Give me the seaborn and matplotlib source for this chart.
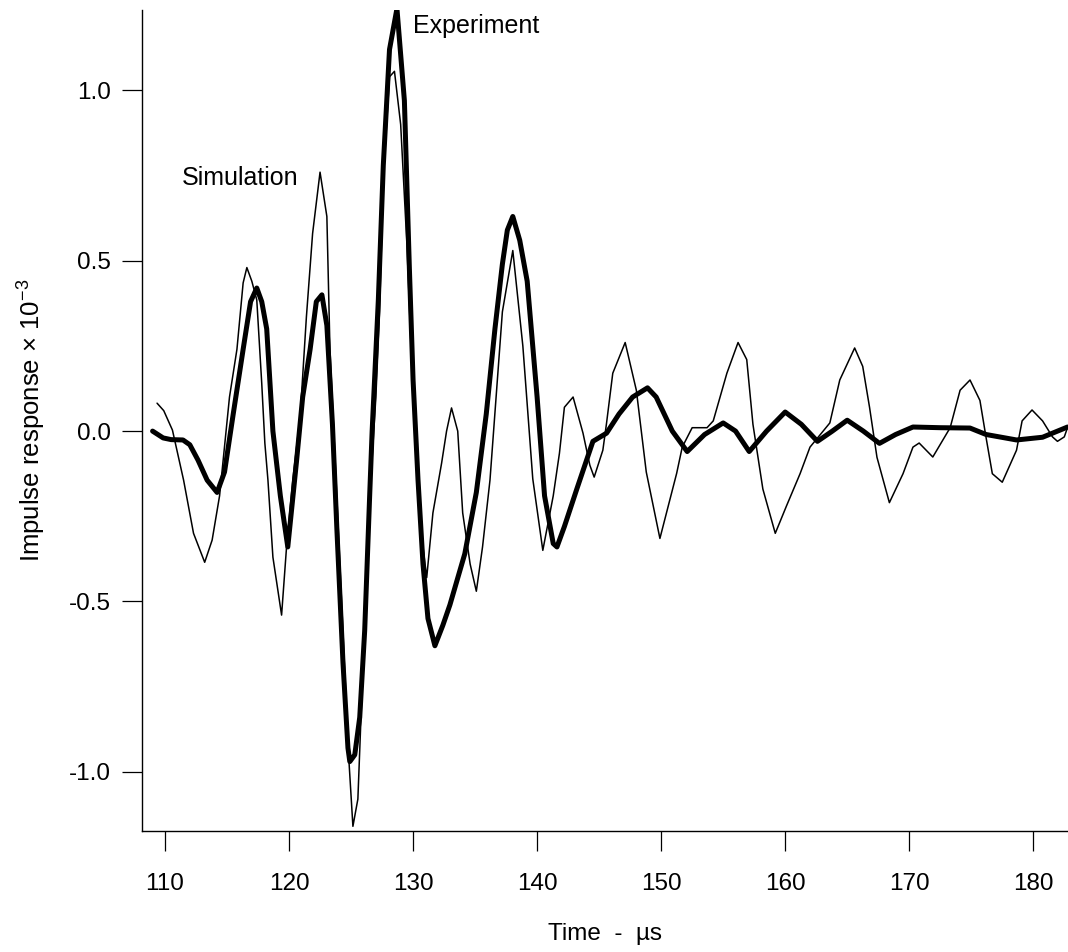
import matplotlib
matplotlib.use("Agg")
import matplotlib.pyplot as plt
import seaborn as sns

# Simulation trace (thin line), time in microseconds, response x 1e-3
sim_time = [109.36, 109.9, 110.6, 111.5, 112.3, 113.2, 113.8, 114.4, 115.2, 115.8,
            116.3, 116.6, 117.0, 117.4, 117.8, 118.05, 118.3, 118.7, 119.4, 119.8,
            120.3, 120.9, 121.4, 121.9, 122.5, 123.05, 123.3, 123.8, 124.3, 124.8,
            125.15, 125.55, 126.0, 126.5, 127.0, 127.3, 127.6, 128.1, 128.5, 129.0,
            129.5, 130.0, 130.5, 131.1, 131.6, 132.3, 132.7, 133.1, 133.6, 134.0,
            134.6, 135.1, 135.6, 136.2, 137.2, 138.04, 138.85, 139.65, 140.46, 141.3,
            141.8, 142.2, 142.9, 143.7, 144.25, 144.6, 145.3, 145.6, 146.1, 147.1,
            148.0, 148.8, 149.9, 151.25, 151.7, 152.5, 153.7, 154.2, 155.3, 156.2,
            156.9, 157.4, 158.2, 159.2, 160.1, 161.2, 162.0, 163.6, 164.4, 165.6,
            166.25, 166.8, 167.4, 168.4, 169.5, 170.3, 170.8, 171.9, 173.3, 174.1,
            174.9, 175.7, 176.2, 176.7, 177.5, 178.65, 179.1, 179.9, 180.75, 181.55,
            181.95, 182.5, 182.76]
sim_resp = [0.082, 0.06, 0.003, -0.144, -0.30, -0.385, -0.32, -0.19, 0.10, 0.24,
            0.435, 0.48, 0.44, 0.385, 0.14, -0.035, -0.144, -0.37, -0.54, -0.34,
            -0.144, 0.045, 0.335, 0.58, 0.76, 0.63, 0.24, -0.15, -0.55, -0.95,
            -1.16, -1.08, -0.65, -0.2, 0.1, 0.35, 0.74, 1.04, 1.056, 0.90,
            0.55, 0.10, -0.25, -0.43, -0.24, -0.094, 0.0, 0.068, 0.0, -0.24,
            -0.39, -0.47, -0.34, -0.144, 0.35, 0.53, 0.25, -0.14, -0.35, -0.19,
            -0.065, 0.07, 0.10, -0.006, -0.10, -0.135, -0.056, 0.024, 0.17, 0.26,
            0.12, -0.12, -0.315, -0.124, -0.047, 0.01, 0.01, 0.03, 0.17, 0.26,
            0.21, 0.02, -0.17, -0.30, -0.22, -0.125, -0.047, 0.024, 0.15, 0.244,
            0.19, 0.07, -0.077, -0.21, -0.125, -0.047, -0.035, -0.076, 0.01, 0.12,
            0.15, 0.09, -0.02, -0.125, -0.15, -0.056, 0.03, 0.062, 0.03, -0.017,
            -0.03, -0.017, 0.01]

# Experiment trace (thick line)
exp_time = [109.0, 109.85, 110.5, 111.45, 112.0, 112.66, 113.4, 114.2, 114.8, 115.5,
            116.3, 116.9, 117.4, 117.8, 118.2, 118.7, 119.3, 119.9, 120.6, 121.1,
            121.7, 122.2, 122.65, 123.05, 123.5, 123.86, 124.35, 124.75, 124.9, 125.3,
            125.7, 126.1, 126.5, 126.7, 127.2, 127.6, 128.1, 128.7, 129.3, 129.7,
            130.0, 130.4, 130.8, 131.2, 131.76, 132.4, 132.97, 134.17, 135.1, 135.9,
            136.6, 137.2, 137.6, 138.04, 138.6, 139.2, 140.0, 140.6, 141.3, 141.6,
            142.2, 143.2, 144.5, 145.6, 146.6, 147.7, 148.9, 149.6, 150.9, 152.1,
            153.5, 155.0, 156.0, 157.1, 158.5, 160.0, 161.3, 162.6, 163.8, 165.0,
            166.3, 167.6, 168.9, 170.3, 172.5, 174.9, 176.2, 178.65, 180.75, 182.76]
exp_resp = [0.0, -0.02, -0.025, -0.026, -0.04, -0.085, -0.144, -0.18, -0.12, 0.05,
            0.24, 0.38, 0.42, 0.38, 0.30, 0.0, -0.19, -0.34, -0.09, 0.10,
            0.24, 0.38, 0.40, 0.31, 0.02, -0.29, -0.68, -0.93, -0.97, -0.95,
            -0.84, -0.585, -0.19, 0.0, 0.385, 0.78, 1.12, 1.24, 0.97, 0.48,
            0.15, -0.144, -0.39, -0.55, -0.63, -0.57, -0.51, -0.36, -0.18, 0.05,
            0.30, 0.49, 0.59, 0.63, 0.56, 0.44, 0.10, -0.19, -0.33, -0.34,
            -0.28, -0.17, -0.03, -0.006, 0.05, 0.10, 0.127, 0.10, 0.0, -0.06,
            -0.01, 0.024, 0.0, -0.06, 0.0, 0.056, 0.02, -0.03, 0.0, 0.032,
            0.0, -0.036, -0.01, 0.012, 0.01, 0.009, -0.01, -0.026, -0.018, 0.012]

x_ticks = [110, 120, 130, 140, 150, 160, 170, 180]
y_ticks = [-1.0, -0.5, 0.0, 0.5, 1.0]

sns.set_theme(style="ticks")
plt.rcParams["font.family"] = ["Liberation Sans", "DejaVu Sans"]
plt.rcParams["mathtext.fontset"] = "custom"
plt.rcParams["mathtext.rm"] = "Liberation Sans"
plt.rcParams["axes.unicode_minus"] = False
plt.rcParams["text.color"] = "black"

fig = plt.figure(figsize=(10.68, 9.52), dpi=100)
ax = fig.add_axes([0.133, 0.127, 0.867, 0.8625])

sns.lineplot(x=sim_time, y=sim_resp, ax=ax, color="black", linewidth=1.1,
             sort=False, estimator=None, solid_joinstyle="round")
sns.lineplot(x=exp_time, y=exp_resp, ax=ax, color="black", linewidth=3.6,
             sort=False, estimator=None, solid_joinstyle="round")

ax.set_xlim(108.15, 182.8)
ax.set_ylim(-1.174, 1.236)
ax.set_xticks(x_ticks)
ax.set_xticklabels([str(t) for t in x_ticks])
ax.set_yticks(y_ticks)
ax.set_yticklabels([f"{t:.1f}" for t in y_ticks])

sns.despine(ax=ax)
for s in ("left", "bottom"):
    ax.spines[s].set_color("black")
    ax.spines[s].set_linewidth(1.0)
ax.tick_params(direction="out", length=14.5, width=0.9, color="black",
               labelsize=17.5, labelcolor="black")
ax.tick_params(axis="x", pad=16)
ax.tick_params(axis="y", pad=8)

ax.set_xlabel("Time  -  µs", fontsize=17.5, labelpad=20, color="black")
ax.set_ylabel(r"Impulse response $\times$ 10$^{-3}$", fontsize=18.5,
              labelpad=16, color="black")

ax.text(111.37, 0.742, "Simulation", fontsize=18, ha="left", va="center",
        color="black")
ax.text(129.98, 1.19, "Experiment", fontsize=18, ha="left", va="center",
        color="black")

fig.savefig("out.png", dpi=100, facecolor="white")
